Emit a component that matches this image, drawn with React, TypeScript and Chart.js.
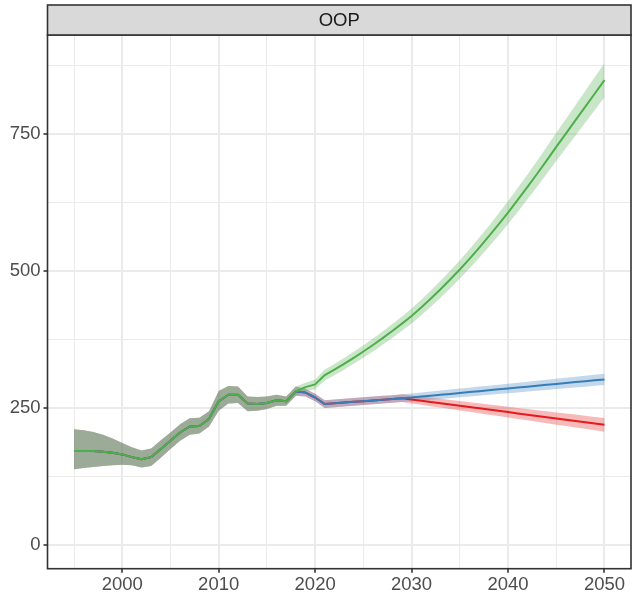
import React, { useEffect, useRef } from "react";
import { Chart, registerables } from "chart.js";

Chart.register(...registerables);

// ---------- data ----------
const panelTitle = "OOP";

const histYears = [
  1995, 1996, 1997, 1998, 1999, 2000, 2001, 2002, 2003, 2004, 2005, 2006,
  2007, 2008, 2009, 2010, 2011, 2012, 2013, 2014, 2015, 2016, 2017, 2018,
];
const histMid = [
  171, 171, 171, 170, 168, 165, 160, 156, 160, 175, 190, 205,
  216, 217, 230, 262, 274, 274, 258, 257, 259, 264, 262, 280,
];
const histLow = [
  138, 140, 142, 144, 145, 146, 145, 141, 144, 159, 175, 190,
  201, 203, 216, 245, 258, 259, 244, 245, 248, 254, 254, 272,
];
const histHigh = [
  211, 209, 206, 201, 194, 186, 178, 172, 176, 191, 205, 220,
  231, 232, 244, 281, 290, 289, 271, 270, 271, 274, 271, 289,
];

const projYears = [
  2019, 2020, 2021, 2022, 2023, 2024, 2025, 2026, 2027, 2028, 2029, 2030,
  2031, 2032, 2033, 2034, 2035, 2036, 2037, 2038, 2039, 2040, 2041, 2042,
  2043, 2044, 2045, 2046, 2047, 2048, 2049, 2050,
];

const greenMid = [
  288, 293, 310, 320, 330.5, 341.5, 353, 365, 377.5, 390.5, 404, 418,
  433.5, 449.8, 466.8, 484.5, 503, 522.3, 542.5, 563.3, 584.8, 607, 630, 653.5,
  677.5, 702, 727, 751.4, 775.8, 800.2, 824.6, 849,
];
const greenSpread = [
  8, 9, 10, 10.3, 10.6, 11, 11.4, 11.8, 12.2, 12.7, 13.2, 13.7,
  14.3, 14.9, 15.5, 16.2, 16.9, 17.6, 18.4, 19.2, 20, 20.9, 21.8, 22.7,
  23.7, 24.7, 25.7, 26.8, 27.9, 29, 30.2, 31.4,
];

const blueMid = [
  278, 269, 257, 258.3, 259.7, 261, 262.3, 263.7, 265, 266.3, 267.7, 269,
  270.7, 272.3, 274, 275.6, 277.3, 278.9, 280.6, 282.2, 283.9, 285.5, 287.2, 288.8,
  290.5, 292.1, 293.8, 295.4, 297.1, 298.7, 300.4, 302,
];
const blueSpread = [
  7, 7, 7, 7, 7, 7, 7, 7, 7, 7, 7, 7.2,
  7.4, 7.5, 7.7, 7.8, 8, 8.1, 8.3, 8.4, 8.6, 8.7, 8.9, 9,
  9.2, 9.3, 9.5, 9.6, 9.8, 9.9, 10, 10.2,
];

const redMid = [
  278, 269, 257, 258.3, 259.7, 261, 262.3, 263.7, 265, 266.3, 267.7, 265.5,
  263.2, 260.9, 258.5, 256.2, 253.9, 251.6, 249.2, 246.9, 244.6, 242.3, 239.9, 237.6,
  235.3, 233, 230.6, 228.3, 226, 223.7, 221.3, 219,
];
const redSpread = [
  7, 7, 7, 7, 7, 7, 7, 7, 7, 7, 7, 7.3,
  7.5, 7.8, 8, 8.3, 8.6, 8.8, 9.1, 9.3, 9.6, 9.9, 10.1, 10.4,
  10.6, 10.9, 11.2, 11.4, 11.7, 11.9, 12.2, 12.5,
];

const xTickValues = [1995, 2000, 2005, 2010, 2015, 2020, 2025, 2030, 2035, 2040, 2045, 2050];
const xTickLabels = [2000, 2010, 2020, 2030, 2040, 2050];
const yTickValues = [0, 125, 250, 375, 500, 625, 750, 875];
const yTickLabels = [0, 250, 500, 750];

const GREEN = "#4DAF4A";
const BLUE = "#377EB8";
const RED = "#E41A1C";
const GREEN_FILL = "rgba(77,175,74,0.3)";
const BLUE_FILL = "rgba(55,126,184,0.3)";
const RED_FILL = "rgba(228,26,28,0.3)";

const FONT = "'Liberation Sans', Arial, Helvetica, sans-serif";

function pts(years: number[], vals: number[]) {
  return years.map((x, i) => ({ x, y: vals[i] }));
}
function full(proj: number[], hist: number[]) {
  return [...pts(histYears, hist), ...pts(projYears, proj)];
}
function shifted(mid: number[], spread: number[], sign: number) {
  return mid.map((v, i) => v + sign * spread[i]);
}

const panelPlugin = {
  id: "panelDecor",
  afterDraw(chart: any) {
    const { ctx, chartArea } = chart;
    const { left, right, top, bottom } = chartArea;
    ctx.save();
    ctx.strokeStyle = "#333333";
    ctx.lineWidth = 1.6;
    ctx.strokeRect(left, top, right - left, bottom - top);
    const stripTop = top - 30;
    ctx.fillStyle = "#D9D9D9";
    ctx.fillRect(left, stripTop, right - left, top - stripTop);
    ctx.strokeRect(left, stripTop, right - left, top - stripTop);
    ctx.fillStyle = "#1A1A1A";
    ctx.font = `18.5px ${FONT}`;
    ctx.textAlign = "center";
    ctx.textBaseline = "middle";
    ctx.fillText(panelTitle, (left + right) / 2, (stripTop + top) / 2 + 1);
    ctx.restore();
  },
};

export default function App() {
  const canvasRef = useRef<HTMLCanvasElement | null>(null);

  useEffect(() => {
    const canvas = canvasRef.current;
    if (!canvas) return;

    const lineDs = (data: any[], color: string, order: number) => ({
      data,
      borderColor: color,
      borderWidth: 2,
      pointRadius: 0,
      fill: false,
      tension: 0,
      borderJoinStyle: "round",
      order,
    });
    const lowDs = (data: any[], order: number) => ({
      data,
      borderWidth: 0,
      borderColor: "rgba(0,0,0,0)",
      pointRadius: 0,
      fill: false,
      order,
    });
    const highDs = (data: any[], fillColor: string, target: number, order: number) => ({
      data,
      borderWidth: 0,
      borderColor: "rgba(0,0,0,0)",
      backgroundColor: fillColor,
      pointRadius: 0,
      fill: { target },
      order,
    });

    const datasets: any[] = [
      lineDs(full(greenMid, histMid), GREEN, 0),
      lineDs(full(blueMid, histMid), BLUE, 1),
      lineDs(full(redMid, histMid), RED, 2),
      lowDs(full(shifted(redMid, redSpread, -1), histLow), 30),
      highDs(full(shifted(redMid, redSpread, 1), histHigh), RED_FILL, 3, 30),
      lowDs(full(shifted(blueMid, blueSpread, -1), histLow), 20),
      highDs(full(shifted(blueMid, blueSpread, 1), histHigh), BLUE_FILL, 5, 20),
      lowDs(full(shifted(greenMid, greenSpread, -1), histLow), 10),
      highDs(full(shifted(greenMid, greenSpread, 1), histHigh), GREEN_FILL, 7, 10),
    ];

    const isMajorX = (v: number) => xTickLabels.includes(v);
    const isMajorY = (v: number) => yTickLabels.includes(v);

    const chart = new Chart(canvas, {
      type: "line",
      data: { datasets },
      plugins: [panelPlugin],
      options: {
        animation: false,
        responsive: false,
        devicePixelRatio: 1,
        layout: { padding: { top: 35, right: 1, left: 0, bottom: 0 } },
        plugins: {
          legend: { display: false },
          tooltip: { enabled: false },
        },
        scales: {
          x: {
            type: "linear",
            min: 1992.25,
            max: 2052.75,
            afterBuildTicks: (scale: any) => {
              scale.ticks = xTickValues.map((v) => ({ value: v }));
            },
            afterFit: (scale: any) => {
              scale.height = 29.3;
            },
            border: { display: false },
            grid: {
              color: "#EBEBEB",
              lineWidth: (c: any) => (isMajorX(c.tick?.value) ? 2 : 1),
              tickColor: (c: any) => (isMajorX(c.tick?.value) ? "#333333" : "rgba(0,0,0,0)"),
              tickLength: 4,
              tickWidth: 1.6,
              drawTicks: true,
            },
            ticks: {
              autoSkip: false,
              maxRotation: 0,
              minRotation: 0,
              padding: 1,
              color: "#4D4D4D",
              font: { family: FONT, size: 18.5 },
              callback: (v: any) => (isMajorX(Number(v)) ? String(v) : ""),
            },
          },
          y: {
            type: "linear",
            min: -43.9,
            max: 931.5,
            afterBuildTicks: (scale: any) => {
              scale.ticks = yTickValues.map((v) => ({ value: v }));
            },
            afterFit: (scale: any) => {
              scale.width = 47.5;
            },
            border: { display: false },
            grid: {
              color: "#EBEBEB",
              lineWidth: (c: any) => (isMajorY(c.tick?.value) ? 2 : 1),
              tickColor: (c: any) => (isMajorY(c.tick?.value) ? "#333333" : "rgba(0,0,0,0)"),
              tickLength: 4,
              tickWidth: 1.6,
              drawTicks: true,
            },
            ticks: {
              autoSkip: false,
              padding: 3,
              color: "#4D4D4D",
              font: { family: FONT, size: 18.5 },
              callback: (v: any) => (isMajorY(Number(v)) ? String(v) : ""),
            },
          },
        },
      } as any,
    });

    return () => chart.destroy();
  }, []);

  return (
    <div style={{ position: "absolute", left: 0, top: 0, width: 632, height: 598, background: "#ffffff" }}>
      <canvas ref={canvasRef} width={632} height={598} style={{ display: "block", width: 632, height: 598 }} />
    </div>
  );
}
